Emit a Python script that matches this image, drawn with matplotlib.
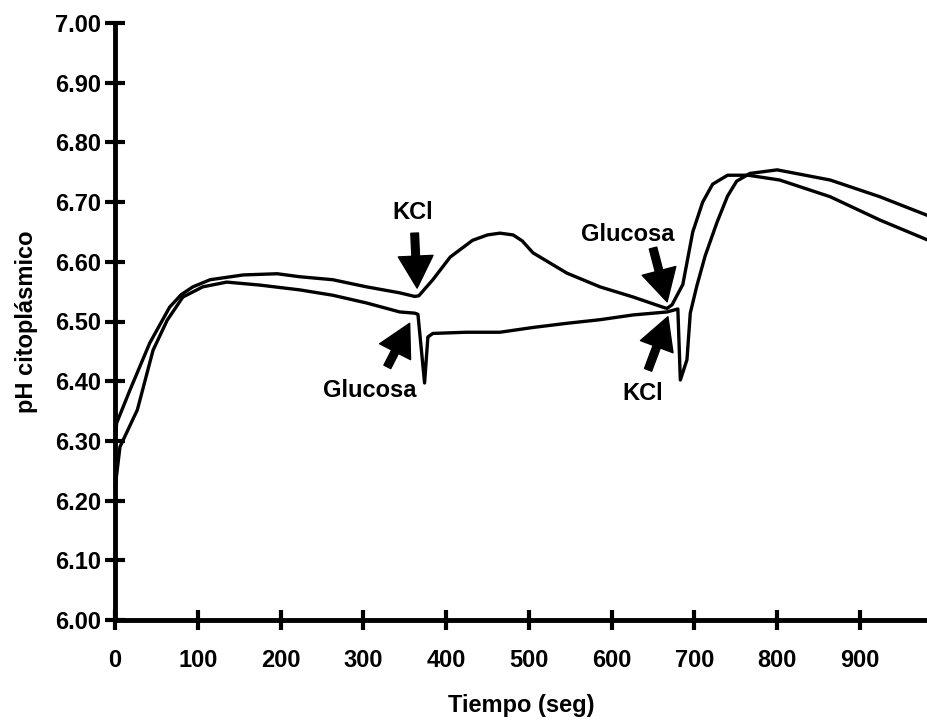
import numpy as np
import matplotlib
matplotlib.use("Agg")
import matplotlib.pyplot as plt

# KCl added first (~362 s), glucose added second (~667 s)
kcl_first_t = [0, 2, 18, 42, 66, 80, 94, 115, 155, 196, 223, 263, 304, 344, 362, 367,
               384, 405, 432, 450, 465, 481, 492, 505, 546, 586, 626, 664, 667, 673,
               686, 698, 710, 722, 740, 765, 803, 864, 924, 981]
kcl_first_ph = [6.30, 6.33, 6.385, 6.464, 6.524, 6.545, 6.558, 6.570, 6.578, 6.580,
                6.575, 6.570, 6.558, 6.548, 6.542, 6.543, 6.570, 6.608, 6.636, 6.645,
                6.648, 6.645, 6.635, 6.615, 6.581, 6.558, 6.541, 6.523, 6.522, 6.528,
                6.562, 6.650, 6.700, 6.730, 6.745, 6.745, 6.737, 6.709, 6.670, 6.637]

# glucose added first (~362 s), KCl added second (~680 s)
gluc_first_t = [0, 6, 27, 46, 63, 82, 106, 135, 175, 223, 263, 304, 344, 362, 366,
                374, 378, 384, 424, 465, 505, 546, 586, 626, 667, 680, 683, 691,
                695, 703, 713, 727, 740, 751, 767, 800, 864, 924, 981]
gluc_first_ph = [6.22, 6.29, 6.352, 6.452, 6.502, 6.541, 6.558, 6.566, 6.561, 6.553,
                 6.544, 6.531, 6.516, 6.514, 6.512, 6.397, 6.474, 6.480, 6.482,
                 6.482, 6.490, 6.497, 6.503, 6.511, 6.516, 6.521, 6.402, 6.436,
                 6.514, 6.560, 6.610, 6.665, 6.710, 6.735, 6.748, 6.754, 6.737,
                 6.709, 6.678]

x_ticks = [0, 100, 200, 300, 400, 500, 600, 700, 800, 900]
y_ticks = [6.0, 6.1, 6.2, 6.3, 6.4, 6.5, 6.6, 6.7, 6.8, 6.9, 7.0]

# (label, arrow tip, arrow tail, text position)
notes = [
    ("KCl", (365, 6.556), (362, 6.648), (360, 6.682)),
    ("Glucosa", (356, 6.497), (329, 6.424), (308, 6.385)),
    ("Glucosa", (667, 6.533), (650, 6.623), (620, 6.645)),
    ("KCl", (668, 6.508), (644, 6.419), (638, 6.380)),
]

plt.rcParams["font.family"] = ["Liberation Sans", "DejaVu Sans"]
plt.rcParams["font.weight"] = "bold"

fig = plt.figure(figsize=(9.27, 7.21), dpi=100)
ax = fig.add_axes([115 / 927, 101 / 721, 812 / 927, 597 / 721])

ax.plot(kcl_first_t, kcl_first_ph, color="black", lw=2.4)
ax.plot(gluc_first_t, gluc_first_ph, color="black", lw=2.4)

for label, tip, tail, tpos in notes:
    ax.annotate("", xy=tip, xytext=tail,
                arrowprops=dict(facecolor="black", edgecolor="black",
                                width=5.5, headwidth=25, headlength=23, shrink=0))
    ax.text(tpos[0], tpos[1], label, ha="center", va="center",
            fontsize=17, fontweight="bold")

ax.set_xlim(0, 981)
ax.set_ylim(6.0, 7.0)
ax.set_xticks(x_ticks)
ax.set_yticks(y_ticks)
ax.set_yticklabels([f"{v:.2f}" for v in y_ticks])
for s in ["top", "right"]:
    ax.spines[s].set_visible(False)
for s in ["left", "bottom"]:
    ax.spines[s].set_linewidth(3.5)
ax.tick_params(axis="both", direction="inout", length=14, width=3,
               labelsize=17)
ax.tick_params(axis="x", pad=14)
ax.tick_params(axis="y", pad=3)
for lab in ax.get_xticklabels() + ax.get_yticklabels():
    lab.set_fontweight("bold")

ax.set_xlabel("Tiempo (seg)", fontsize=17, fontweight="bold", labelpad=16)
ax.set_ylabel("pH citoplásmico", fontsize=17, fontweight="bold", labelpad=12)

fig.savefig("out.png", dpi=100)
